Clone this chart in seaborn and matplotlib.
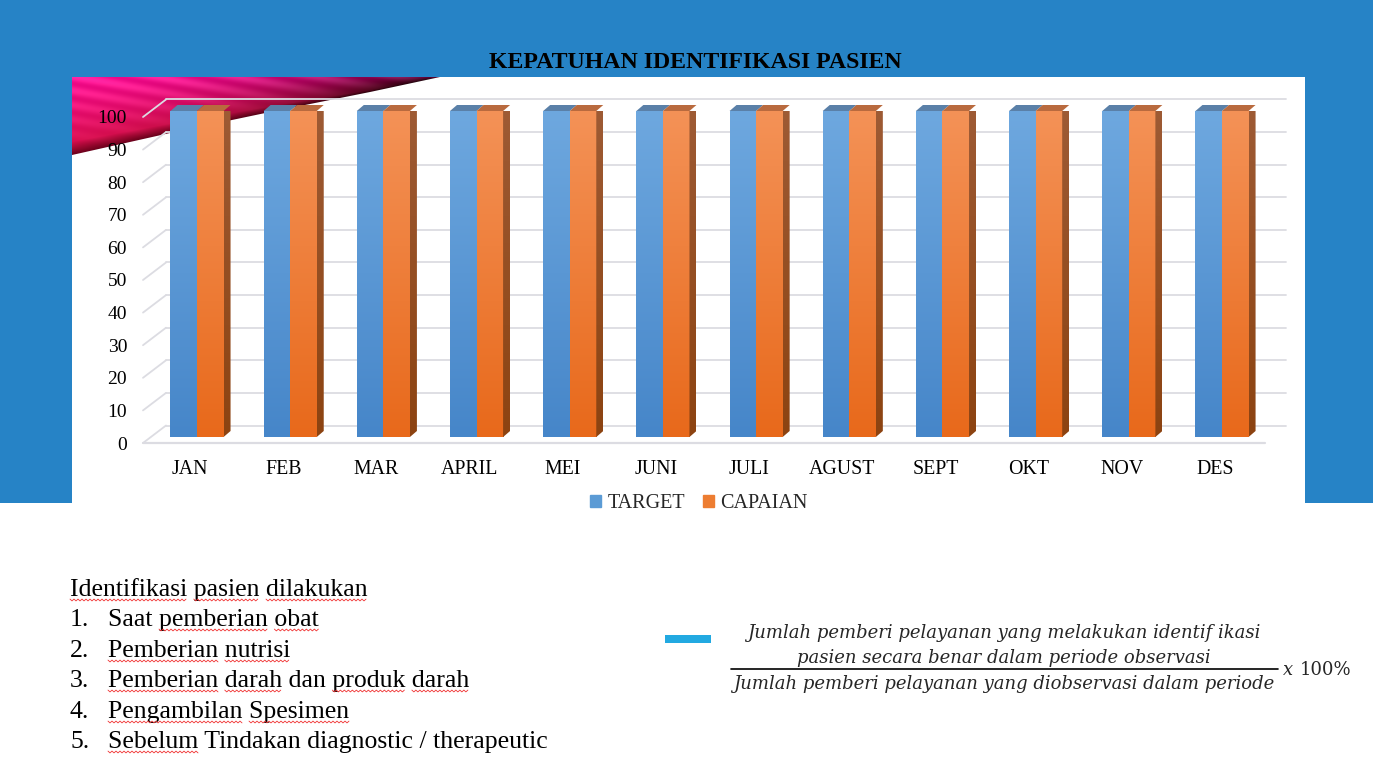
import numpy as np
import pandas as pd
import matplotlib
matplotlib.use('Agg')
import matplotlib.pyplot as plt
from matplotlib.patches import Polygon, Rectangle, Patch
import seaborn as sns

# data
bulan = ['JAN', 'FEB', 'MAR', 'APRIL', 'MEI', 'JUNI', 'JULI', 'AGUST', 'SEPT', 'OKT', 'NOV', 'DES']
target = [100, 100, 100, 100, 100, 100, 100, 100, 100, 100, 100, 100]
capaian = [100, 100, 100, 100, 100, 100, 100, 100, 100, 100, 100, 100]
seri = ['TARGET', 'CAPAIAN']
y_ticks = [0, 10, 20, 30, 40, 50, 60, 70, 80, 90, 100]

judul = 'KEPATUHAN IDENTIFIKASI PASIEN'
daftar_judul = 'Identifikasi pasien dilakukan'
daftar = ['Saat pemberian obat', 'Pemberian nutrisi', 'Pemberian darah dan produk darah',
          'Pengambilan Spesimen', 'Sebelum Tindakan diagnostic / therapeutic']
# words with the red spell-check squiggle, per line
salah_eja = [[0, 1, 2], [1, 2], [0, 1], [0, 1, 3, 4], [0, 1], [0]]
pembilang = ['Jumlah pemberi pelayanan yang melakukan identif ikasi',
             'pasien secara benar dalam periode observasi']
penyebut = 'Jumlah pemberi pelayanan yang diobservasi dalam periode'

df = pd.DataFrame({
    'bulan': bulan * 2,
    'seri': [seri[0]] * len(bulan) + [seri[1]] * len(bulan),
    'nilai': target + capaian,
})

sns.set_theme(style='white')
plt.rcParams['font.family'] = ['Liberation Serif', 'DejaVu Serif']

W, H = 1373, 773
fig = plt.figure(figsize=(W / 100, H / 100), dpi=100)

# background in pixel coordinates
bg = fig.add_axes([0, 0, 1, 1], zorder=0)
bg.set_xlim(0, W)
bg.set_ylim(H, 0)
bg.axis('off')
bg.add_patch(Rectangle((0, 0), W, 503, color='#2683C6', lw=0))
bg.add_patch(Rectangle((72, 77), 1305 - 72, H - 77, color='white', lw=0))

# pink swoosh top-left
ex = [72, 170, 270, 370, 440]
ey = [155, 133, 112, 92, 77]
xs = np.arange(72, 441)
ys = np.arange(77, 157)
XX, YY = np.meshgrid(xs, ys)
edge = np.interp(XX, ex, ey)
f = np.clip((YY - 77) / np.maximum(edge - 77, 1), 0, 1)
xf = (XX - 72) / 368.0
pink = np.array([1.0, 0.09, 0.6])
crim = np.array([0.82, 0.06, 0.26])
dark = np.array([0.4, 0.0, 0.1])
img = pink * (1 - f[..., None]) + crim * f[..., None]
ed = np.clip((f - 0.82) / 0.18, 0, 1)[..., None]
img = img * (1 - ed) + dark * ed
img = img * (1 - (xf ** 2 * (0.65 + 0.35 * f)))[..., None]
# faint light streaks
img = img + 0.06 * np.sin((YY - 0.18 * (XX - 72)) / 2.3)[..., None] * (1 - f[..., None])
im = bg.imshow(np.clip(img, 0, 1), extent=(72, 441, 157, 77), aspect='auto', zorder=1)
poly = Polygon([(72, 77), (441, 77)] + list(zip(ex[::-1], ey[::-1])), closed=True,
               transform=bg.transData, facecolor='none', lw=0)
bg.add_patch(poly)
im.set_clip_path(poly)

bg.text(695, 68, judul, ha='center', va='baseline', fontsize=17.2, fontweight='bold', color='black')

# chart axes (front plane of bars)
ax_l, ax_r, ax_b, ax_t = 150.4, 1268.6, 443, 111
ax = fig.add_axes([ax_l / W, (H - ax_b) / H, (ax_r - ax_l) / W, (ax_b - ax_t) / H], zorder=2)
ax.patch.set_alpha(0)
ux = (ax_r - ax_l) / 12.0
uy = 326 / 100.0
fy = 6 / uy

c_blue = '#5B9BD5'
c_orange = '#ED7D31'
sns.barplot(data=df, x='bulan', y='nilai', hue='seri', hue_order=seri, order=bulan,
            palette=[c_blue, c_orange], width=0.57, saturation=1, linewidth=0,
            legend=False, ax=ax, zorder=3)

grad = {
    0: ('#6EA8DF', '#4686C9', '#5A80A8'),
    1: ('#F49257', '#E8691B', '#B96A3E'),
}
side_col = ('#9E5B35', '#8C4311')
dx, dy = 7 / ux, 6 / uy
t = np.linspace(0, 1, 128)[:, None, None]


def ramp(top, bot):
    a = np.array(matplotlib.colors.to_rgb(top))
    b = np.array(matplotlib.colors.to_rgb(bot))
    return a * (1 - t) + b * t


n = len(bulan)
for i, p in enumerate(ax.patches[:2 * n]):
    k = i // n
    x0, w, h = p.get_x(), p.get_width(), p.get_height()
    top, bot, cap = grad[k]
    g = ax.imshow(ramp(top, bot), extent=(x0, x0 + w, 0, h), aspect='auto', zorder=3.1 + k)
    g.set_clip_path(p)
    ax.add_patch(Polygon([(x0, h), (x0 + w, h), (x0 + w + dx, h + dy), (x0 + dx, h + dy)],
                         closed=True, facecolor=cap, lw=0, zorder=3.05 + k, clip_on=False))
    if k == 1:
        sp = Polygon([(x0 + w, 0), (x0 + w + dx, dy), (x0 + w + dx, h + dy), (x0 + w, h)],
                     closed=True, facecolor='none', lw=0, clip_on=False, zorder=3.2 + k)
        ax.add_patch(sp)
        s = ax.imshow(ramp(*side_col), extent=(x0 + w, x0 + w + dx, 0, h + dy), aspect='auto',
                      zorder=3.2 + k)
        s.set_clip_path(sp)

# gridlines on back wall, side wall diagonals, floor edge
gcol = '#DCDCE2'
bx0 = (166 - ax_l) / ux - 0.5
bx1 = (1286 - ax_l) / ux - 0.5
fx0 = (143 - ax_l) / ux - 0.5
fx1 = (1265 - ax_l) / ux - 0.5
byo = 11.5 / uy
for v in y_ticks:
    ax.plot([bx0, bx1], [v + byo, v + byo], color=gcol, lw=1.3, zorder=1, clip_on=False)
    ax.plot([fx0, bx0], [v - fy, v + byo], color=gcol, lw=1.3, zorder=1, clip_on=False)
ax.plot([fx0, fx1], [-fy, -fy], color=gcol, lw=1.6, zorder=1, clip_on=False)

ax.set_xlim(-0.5, 11.5)
ax.set_ylim(-fy, 100)
ax.set_yticks([v - fy for v in y_ticks], labels=[str(v) for v in y_ticks])
ax.set_xticks([i - 7 / ux for i in range(n)], labels=bulan)
ax.tick_params(axis='y', length=0, pad=16.8, labelsize=14, labelcolor='black')
ax.tick_params(axis='x', length=0, pad=12, labelsize=14.3, labelcolor='black')
ax.set_xlabel('')
ax.set_ylabel('')
for sp_ in ax.spines.values():
    sp_.set_visible(False)

ax.legend(handles=[Patch(color=c_blue), Patch(color=c_orange)], labels=seri, loc='center',
          bbox_to_anchor=(699 / W, 1 - 504 / H), bbox_transform=fig.transFigure, ncol=2,
          frameon=False, handlelength=0.55, handleheight=0.55, handletextpad=0.3,
          columnspacing=0.9, fontsize=14.5)

# list text with spell-check squiggles
renderer = fig.canvas.get_renderer()
base = [596, 626, 657, 687, 718, 748]
baris = [(70, daftar_judul)] + [(108, s) for s in daftar]
fs = 18.5
for j, (x_txt, teks) in enumerate(baris):
    tt = bg.text(x_txt, base[j], teks, ha='left', va='baseline', fontsize=fs, color='black')
    if j > 0:
        bg.text(70, base[j], f'{j}.', ha='left', va='baseline', fontsize=fs, color='black')
    prop = tt.get_fontproperties()
    kata = teks.split(' ')
    for wi in salah_eja[j]:
        upto = ' '.join(kata[:wi + 1])
        w_all = renderer.get_text_width_height_descent(upto, prop, ismath=False)[0]
        w_word = renderer.get_text_width_height_descent(kata[wi], prop, ismath=False)[0]
        xa, xb = x_txt + w_all - w_word, x_txt + w_all
        zx = np.arange(xa, xb, 2.0)
        zy = base[j] + 4 + 0.9 * np.where(np.arange(len(zx)) % 2 == 0, -1, 1)
        bg.plot(zx, zy, color='#F03030', lw=0.6, zorder=3)

# formula
bg.add_patch(Rectangle((665, 635), 46, 8, color='#22A9E1', lw=0))
fx_c = 1004
bg.text(fx_c, 638, pembilang[0], ha='center', va='baseline', fontsize=13, style='italic',
        family='DejaVu Serif')
bg.text(fx_c, 663, pembilang[1], ha='center', va='baseline', fontsize=13, style='italic',
        family='DejaVu Serif')
bg.plot([731, 1278], [669, 669], color='black', lw=1.2)
bg.text(fx_c, 689, penyebut, ha='center', va='baseline', fontsize=13, style='italic',
        family='DejaVu Serif')
bg.text(1283, 675, 'x', ha='left', va='baseline', fontsize=13, style='italic', family='DejaVu Serif')
bg.text(1300, 675, '100%', ha='left', va='baseline', fontsize=13, family='DejaVu Serif')

fig.savefig('out.png', dpi=100)
